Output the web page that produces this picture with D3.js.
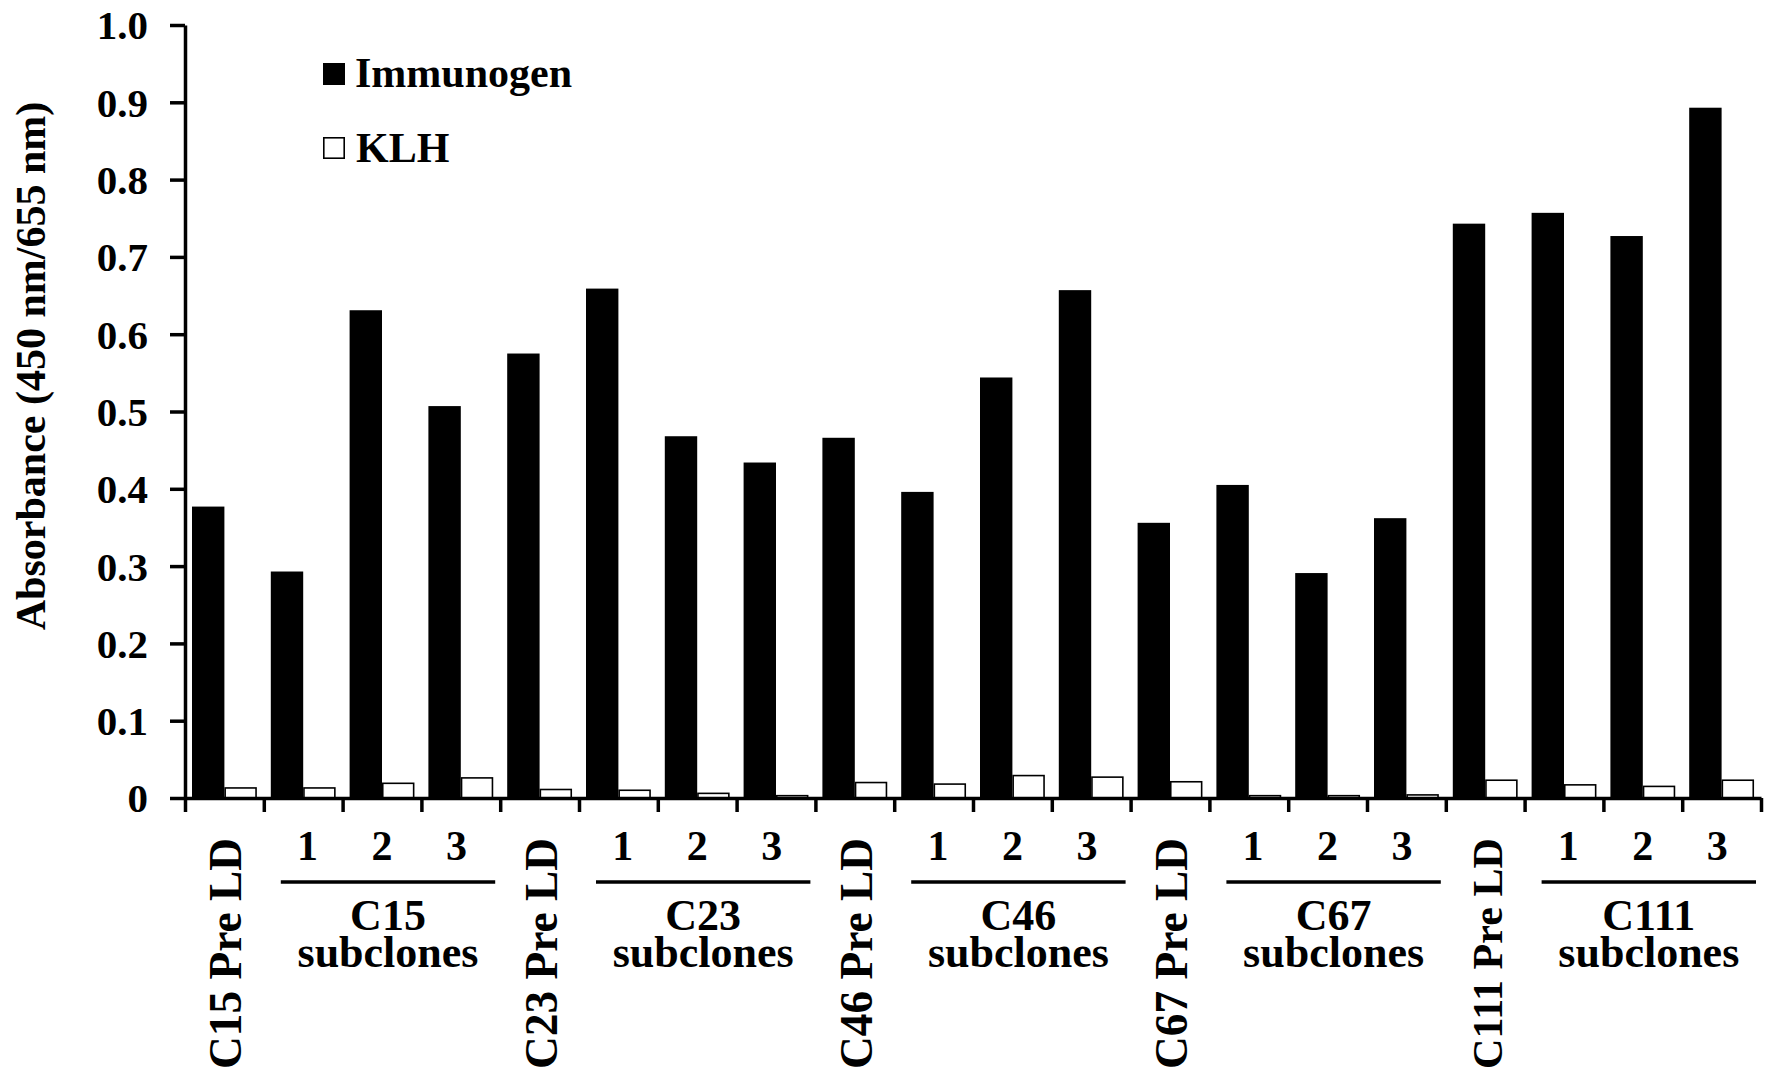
<!DOCTYPE html>
<html>
<head>
<meta charset="utf-8">
<script src="https://cdn.jsdelivr.net/npm/d3@7"></script>
<style>
  html, body { margin: 0; padding: 0; background: #fff; }
  svg { display: block; }
  text { font-family: "Liberation Serif", "Times New Roman", serif; font-weight: bold; fill: #000; }
</style>
</head>
<body>
<svg id="chart" width="1782" height="1086"></svg>
<script>
// Sample identifiers (one per bar pair), in plotting order
const categories = [
  "C15 Pre LD", "C15-1", "C15-2", "C15-3",
  "C23 Pre LD", "C23-1", "C23-2", "C23-3",
  "C46 Pre LD", "C46-1", "C46-2", "C46-3",
  "C67 Pre LD", "C67-1", "C67-2", "C67-3",
  "C111 Pre LD", "C111-1", "C111-2", "C111-3"
];
// Text written under each sample
const tickLabels = [
  "C15 Pre LD", "1", "2", "3",
  "C23 Pre LD", "1", "2", "3",
  "C46 Pre LD", "1", "2", "3",
  "C67 Pre LD", "1", "2", "3",
  "C111 Pre LD", "1", "2", "3"
];
// Subclone group captions (each covers the three numbered samples after a Pre LD sample)
const groups = ["C15", "C23", "C46", "C67", "C111"];
const series = ["Immunogen", "KLH"];

// Absorbance (450 nm/655 nm)
const immunogen = [
  0.377, 0.293, 0.631, 0.507,
  0.575, 0.659, 0.468, 0.434,
  0.466, 0.396, 0.544, 0.657,
  0.356, 0.405, 0.291, 0.362,
  0.743, 0.757, 0.727, 0.893
];
const klh = [
  0.013, 0.013, 0.019, 0.026,
  0.011, 0.010, 0.006, 0.003,
  0.020, 0.018, 0.029, 0.027,
  0.021, 0.003, 0.003, 0.004,
  0.023, 0.017, 0.015, 0.023
];
const yTicks = [0, 0.1, 0.2, 0.3, 0.4, 0.5, 0.6, 0.7, 0.8, 0.9, 1.0];

const svg = d3.select("#chart");
const x0 = 185, x1 = 1761, yTop = 25, yBase = 798;

const x = d3.scaleBand().domain(categories).range([x0, x1]).paddingInner(0).paddingOuter(0);
const xEdge = d3.scaleLinear().domain([0, categories.length]).range([x0, x1]);
const xs = d3.scaleBand().domain(series).range([0, x.bandwidth()]).paddingInner(0).paddingOuter(0.216);
const y = d3.scaleLinear().domain([0, 1]).range([yBase, yTop]);

const rows = categories.map((c, i) => ({ cat: c, Immunogen: immunogen[i], KLH: klh[i] }));

// Bars
const g = svg.append("g");
g.selectAll("rect.imm").data(rows).join("rect")
  .attr("class", "imm")
  .attr("x", d => x(d.cat) + xs("Immunogen"))
  .attr("width", xs.bandwidth())
  .attr("y", d => y(d.Immunogen))
  .attr("height", d => y(0) - y(d.Immunogen))
  .attr("fill", "#000");
g.selectAll("rect.klh").data(rows).join("rect")
  .attr("class", "klh")
  .attr("x", d => x(d.cat) + xs("KLH") + 0.75)
  .attr("width", xs.bandwidth() - 1.5)
  .attr("y", d => y(d.KLH))
  .attr("height", d => y(0) - y(d.KLH))
  .attr("fill", "#fff")
  .attr("stroke", "#000")
  .attr("stroke-width", 1.6);

// Y axis
const yAxis = svg.append("g")
  .attr("transform", `translate(${x0},0)`)
  .call(d3.axisLeft(y).tickValues(yTicks)
    .tickFormat(d => d === 0 ? "0" : d3.format(".1f")(d))
    .tickSize(15).tickSizeOuter(0).tickPadding(22));
yAxis.select(".domain").attr("stroke-width", 3.5);
yAxis.selectAll(".tick line").attr("stroke-width", 3.5);
yAxis.selectAll(".tick text")
  .attr("font-size", 41).attr("dy", "0.34em")
  .style("font-family", '"Liberation Serif", "Times New Roman", serif').style("font-weight", "bold");

// X axis (ticks at sample boundaries)
const xAxis = svg.append("g")
  .attr("transform", `translate(0,${yBase})`)
  .call(d3.axisBottom(xEdge).tickValues(d3.range(categories.length + 1))
    .tickFormat("").tickSize(14).tickSizeOuter(0));
xAxis.select(".domain").attr("stroke-width", 3.5);
xAxis.selectAll(".tick line").attr("stroke-width", 3.5);

// Rotated Pre LD labels, shrunk to fit the space below the axis
const maxLabelLen = 231;
categories.forEach((c, i) => {
  const label = tickLabels[i];
  if (label.length <= 1) return;
  const cx = x(c) + x.bandwidth() / 2;
  const t = svg.append("text")
    .attr("transform", `translate(${cx + 17},838) rotate(-90)`)
    .attr("text-anchor", "end")
    .attr("font-size", 45.5)
    .text(label);
  const len = t.node().getComputedTextLength();
  if (len > maxLabelLen) t.attr("font-size", 45.5 * maxLabelLen / len);
});

// Subclone numbers, underline and caption for each group
groups.forEach((grp, k) => {
  const first = categories[k * 4 + 1], middle = categories[k * 4 + 2], last = categories[k * 4 + 3];
  const midCat = x(middle) + x.bandwidth() / 2;
  [1, 2, 3].forEach((n, j) => {
    svg.append("text")
      .attr("x", midCat + (j - 1) * 74.5).attr("y", 860)
      .attr("text-anchor", "middle")
      .attr("font-size", 42)
      .text(tickLabels[k * 4 + 1 + j]);
  });
  const gx0 = x(first) + 17, gx1 = x(last) + x.bandwidth() - 5;
  const mid = (gx0 + gx1) / 2;
  svg.append("line")
    .attr("x1", gx0).attr("x2", gx1).attr("y1", 882).attr("y2", 882)
    .attr("stroke", "#000").attr("stroke-width", 3.5);
  svg.append("text").attr("x", mid).attr("y", 930)
    .attr("text-anchor", "middle").attr("font-size", 44).text(grp);
  svg.append("text").attr("x", mid).attr("y", 967)
    .attr("text-anchor", "middle").attr("font-size", 44).text("subclones");
});

// Y axis title
svg.append("text")
  .attr("transform", "translate(45,366) rotate(-90)")
  .attr("text-anchor", "middle")
  .attr("font-size", 42)
  .text("Absorbance (450 nm/655 nm)");

// Legend
const legend = svg.append("g");
legend.append("rect").attr("x", 323).attr("y", 63).attr("width", 22).attr("height", 22).attr("fill", "#000");
legend.append("text").attr("x", 355).attr("y", 87).attr("font-size", 42).text(series[0]);
legend.append("rect").attr("x", 323.8).attr("y", 137.8).attr("width", 20.4).attr("height", 20.4)
  .attr("fill", "#fff").attr("stroke", "#000").attr("stroke-width", 1.6);
legend.append("text").attr("x", 356).attr("y", 162).attr("font-size", 42).text(series[1]);
</script>
</body>
</html>
